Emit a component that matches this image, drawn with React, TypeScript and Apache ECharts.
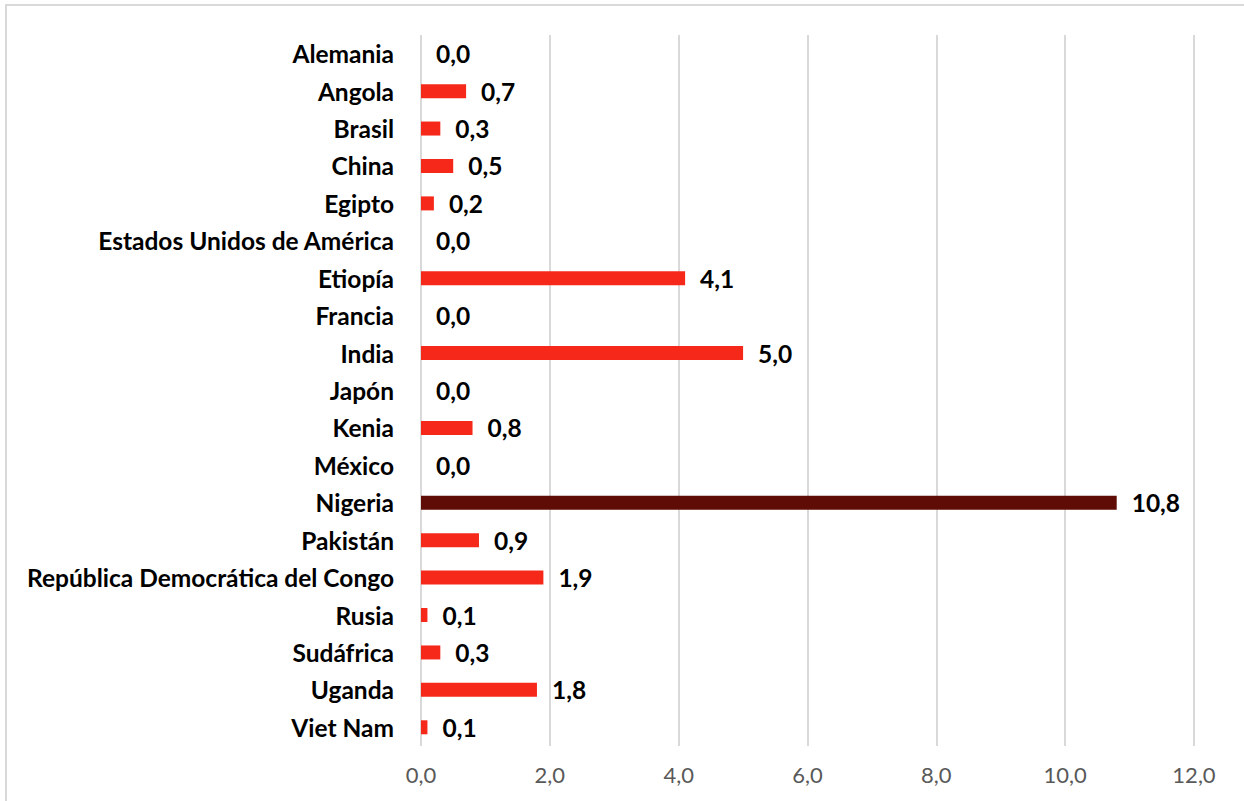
import React, { useEffect, useRef } from "react";
import * as echarts from "echarts";

const categories = [
  "Alemania",
  "Angola",
  "Brasil",
  "China",
  "Egipto",
  "Estados Unidos de América",
  "Etiopía",
  "Francia",
  "India",
  "Japón",
  "Kenia",
  "México",
  "Nigeria",
  "Pakistán",
  "República Democrática del Congo",
  "Rusia",
  "Sudáfrica",
  "Uganda",
  "Viet Nam",
];
const values = [0.0, 0.7, 0.3, 0.5, 0.2, 0.0, 4.1, 0.0, 5.0, 0.0, 0.8, 0.0, 10.8, 0.9, 1.9, 0.1, 0.3, 1.8, 0.1];
const highlighted = ["Nigeria"];
const xTicks = { min: 0, max: 12, interval: 2 };

const RED = "#F5281A";
const DARK = "#5E0C05";
const FONT = "Lato";

export default function App() {
  const ref = useRef<HTMLDivElement>(null);
  useEffect(() => {
    if (!ref.current) return;
    const chart = echarts.init(ref.current, undefined, { renderer: "svg" });
    chart.setOption({
      animation: false,
      backgroundColor: "#ffffff",
      graphic: [
        {
          type: "rect",
          shape: { x: 6, y: 5, width: 1300, height: 900 },
          style: { fill: "none", stroke: "#d9d9d9", lineWidth: 2 },
          silent: true,
        },
      ],
      grid: { left: 421, right: 50, top: 35, bottom: 55, containLabel: false },
      xAxis: {
        type: "value",
        min: xTicks.min,
        max: xTicks.max,
        interval: xTicks.interval,
        axisLine: { show: false },
        axisTick: { show: false },
        splitLine: { show: true, lineStyle: { color: "#d9d9d9", width: 2 } },
        axisLabel: {
          color: "#595959",
          fontFamily: FONT,
          fontSize: 22,
          margin: 17,
          formatter: (v: number) => v.toFixed(1).replace(".", ","),
        },
      },
      yAxis: {
        type: "category",
        data: categories,
        inverse: true,
        axisLine: { show: false },
        axisTick: { show: false },
        axisLabel: {
          color: "#000000",
          fontFamily: FONT,
          fontWeight: "bold",
          fontSize: 24.5,
          margin: 27,
        },
      },
      series: [
        {
          type: "bar",
          barWidth: 14,
          data: values.map((v, i) => ({
            value: v,
            itemStyle: { color: highlighted.includes(categories[i]) ? DARK : RED },
          })),
          label: {
            show: true,
            position: "right",
            distance: 15,
            color: "#000000",
            fontFamily: FONT,
            fontWeight: "bold",
            fontSize: 24.5,
            formatter: (p: any) => Number(p.value).toFixed(1).replace(".", ","),
          },
        },
      ],
    });
    return () => chart.dispose();
  }, []);
  return (
    <div
      ref={ref}
      style={{ position: "fixed", left: 0, top: 0, width: 1244, height: 801 }}
    />
  );
}
